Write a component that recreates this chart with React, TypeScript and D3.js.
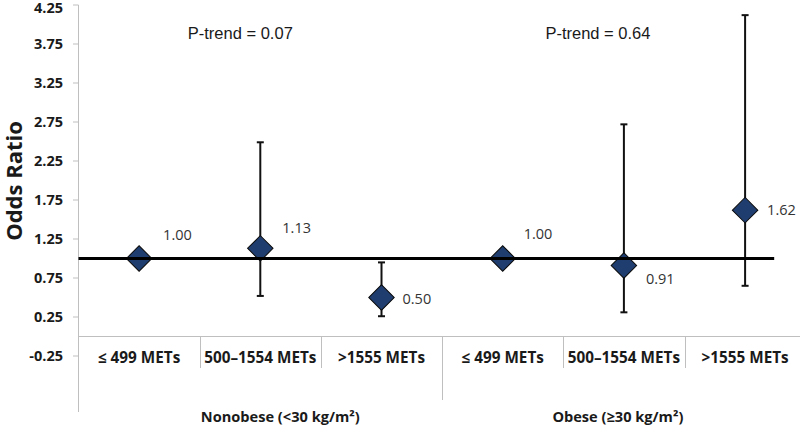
import React from "react";
import * as d3 from "d3";

const categories = ["≤ 499 METs", "500–1554 METs", ">1555 METs", "≤ 499 METs", "500–1554 METs", ">1555 METs"];
const groupNames = ["Nonobese (<30 kg/m²)", "Obese (≥30 kg/m²)"];
const groupOf = [0, 0, 0, 1, 1, 1];
const oddsRatios = [1.0, 1.13, 0.5, 1.0, 0.91, 1.62];
const ciLower = [null, 0.52, 0.26, null, 0.31, 0.65];
const ciUpper = [null, 2.49, 0.95, null, 2.72, 4.12];
const pTrends = ["P-trend = 0.07", "P-trend = 0.64"];
const yTicks = [-0.25, 0.25, 0.75, 1.25, 1.75, 2.25, 2.75, 3.25, 3.75, 4.25];

// layout (not data)
const W = 800, H = 426;
const labelOffsets: [number, number][] = [[24, -24], [22, -20], [21, 1], [21, -25], [22, 13], [22, 0]];
const pTrendDx = [-20, -26];
const groupLabelDx = [20, -6];

export default function App() {
  const x = d3.scaleBand<number>().domain(d3.range(categories.length)).range([78.5, 805.7]).paddingInner(0).paddingOuter(0);
  const y = d3.scaleLinear().domain([-0.25, 4.25]).range([356, 5]);
  const bw = x.bandwidth();
  const cx = (i: number) => (x(i) as number) + bw / 2;
  const y0 = y(0);
  const groups = groupNames.map((g, gi) => {
    const idx = d3.range(categories.length).filter((i) => groupOf[i] === gi);
    const x0 = x(idx[0]) as number;
    const x1 = (x(idx[idx.length - 1]) as number) + bw;
    return { name: g, x0, x1, c: (x0 + x1) / 2 };
  });
  const axisColor = "#bfbfbf";
  const diamond = d3.symbol().type(d3.symbolSquare).size(18 * 18);
  const refEnd = cx(categories.length - 1) + bw * 0.24;

  return (
    <svg width={W} height={H} style={{ position: "absolute", left: 0, top: 0, background: "#fff" }}>
      <rect width={W} height={H} fill="#fff" />
      {/* y axis */}
      <line x1={78.5} x2={78.5} y1={y(4.25)} y2={412} stroke={axisColor} strokeWidth={1} />
      {yTicks.map((t) => (
        <g key={t}>
          <line x1={73} x2={78.5} y1={y(t)} y2={y(t)} stroke={axisColor} strokeWidth={1} />
          <text x={63} y={y(t) + (t === 4.25 ? 2.5 : 0)} dy="0.35em" textAnchor="end" fontFamily="'Open Sans', sans-serif" fontWeight={700} fontSize={14.5} fill="#1a1a1a">
            {t.toFixed(2)}
          </text>
        </g>
      ))}
      <text transform={`translate(14.5,181) rotate(-90)`} dy="0.35em" textAnchor="middle" fontFamily="'Open Sans', sans-serif" fontWeight={700} fontSize={22} fill="#1a1a1a">
        Odds Ratio
      </text>
      {/* x axis */}
      <line x1={78.5} x2={W} y1={y0} y2={y0} stroke={axisColor} strokeWidth={1} />
      {d3.range(1, categories.length).map((i) => {
        const isGroupEdge = groupOf[i] !== groupOf[i - 1];
        const xx = Math.round(x(i) as number) + 0.5;
        return <line key={i} x1={xx} x2={xx} y1={y0} y2={isGroupEdge ? 400 : 368} stroke={axisColor} strokeWidth={1} />;
      })}
      {categories.map((c, i) => (
        <text key={i} x={cx(i)} y={358} dy="0.35em" textAnchor="middle" fontFamily="'Open Sans', sans-serif" fontWeight={700} fontSize={15.3} fill="#1a1a1a">
          {c}
        </text>
      ))}
      {groups.map((g, gi) => (
        <text key={gi} x={g.c + groupLabelDx[gi]} y={417} dy="0.35em" textAnchor="middle" fontFamily="'Open Sans', sans-serif" fontWeight={700} fontSize={14.6} fill="#1a1a1a">
          {g.name}
        </text>
      ))}
      {groups.map((g, gi) => (
        <text key={gi} x={g.c + pTrendDx[gi]} y={33} dy="0.35em" textAnchor="middle" fontFamily="'Liberation Sans', Arial, sans-serif" fontSize={16.5} fill="#1a1a1a">
          {pTrends[gi]}
        </text>
      ))}
      {/* error bars */}
      {oddsRatios.map((v, i) =>
        ciLower[i] != null && ciUpper[i] != null ? (
          <g key={i} stroke="#111" strokeWidth={2}>
            <line x1={cx(i)} x2={cx(i)} y1={y(ciUpper[i] as number)} y2={y(ciLower[i] as number)} />
            <line x1={cx(i) - 3.5} x2={cx(i) + 3.5} y1={y(ciUpper[i] as number)} y2={y(ciUpper[i] as number)} />
            <line x1={cx(i) - 3.5} x2={cx(i) + 3.5} y1={y(ciLower[i] as number)} y2={y(ciLower[i] as number)} />
          </g>
        ) : null
      )}
      {/* diamonds */}
      {oddsRatios.map((v, i) => (
        <path key={i} d={diamond() as string} transform={`translate(${cx(i)},${y(v)}) rotate(45)`} fill="#1f3d6e" stroke="#0a0a0a" strokeWidth={1} />
      ))}
      {/* reference line */}
      <line x1={78.5} x2={refEnd} y1={y(1)} y2={y(1)} stroke="#000" strokeWidth={3} />
      {oddsRatios.map((v, i) => (
        <text key={i} x={cx(i) + labelOffsets[i][0]} y={y(v) + labelOffsets[i][1]} dy="0.35em" fontFamily="'Open Sans', sans-serif" fontSize={14.5} fill="#333">
          {v.toFixed(2)}
        </text>
      ))}
    </svg>
  );
}
